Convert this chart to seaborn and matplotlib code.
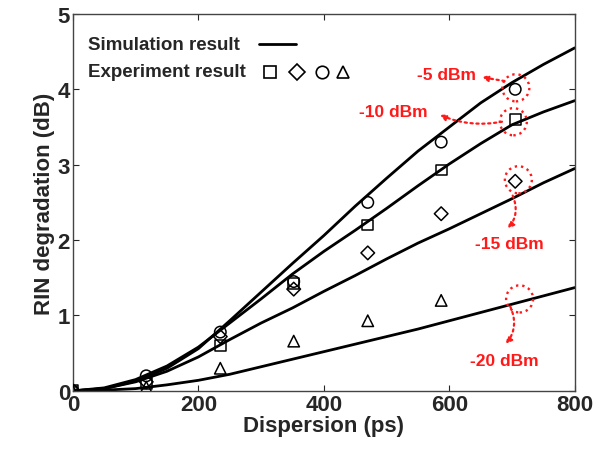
import matplotlib
matplotlib.use('Agg')
import matplotlib.pyplot as plt
from matplotlib.patches import Ellipse
import seaborn as sns
import pandas as pd
import numpy as np

# simulation curves
sim_x = [0, 50, 100, 150, 200, 250, 300, 350, 400, 450, 500, 550, 600, 650, 700, 750, 800]
sim_m5 = [0, 0.03, 0.13, 0.30, 0.56, 0.93, 1.31, 1.69, 2.06, 2.45, 2.82, 3.18, 3.50, 3.82, 4.09, 4.33, 4.55]
sim_m10 = [0, 0.04, 0.15, 0.33, 0.58, 0.90, 1.22, 1.55, 1.85, 2.13, 2.42, 2.72, 3.01, 3.28, 3.53, 3.70, 3.85]
sim_m15 = [0, 0.03, 0.12, 0.26, 0.45, 0.68, 0.90, 1.10, 1.32, 1.53, 1.75, 1.96, 2.15, 2.35, 2.55, 2.76, 2.95]
sim_m20 = [0, 0.01, 0.03, 0.08, 0.14, 0.22, 0.32, 0.42, 0.52, 0.62, 0.72, 0.82, 0.93, 1.04, 1.15, 1.26, 1.37]

# experimental points
exp_x = [0, 117, 235, 352, 470, 587, 705]
exp_m5 = [0, 0.20, 0.78, 1.45, 2.50, 3.30, 4.00]
exp_m10 = [0, 0.10, 0.60, 1.42, 2.20, 2.93, 3.60]
exp_m15 = [0, 0.12, 0.72, 1.35, 1.83, 2.35, 2.78]
exp_x20 = [0, 117, 235, 352, 470, 587]
exp_m20 = [0, 0.05, 0.30, 0.66, 0.93, 1.20]

sns.set_style('ticks')
plt.rcParams['font.family'] = ['Liberation Sans', 'DejaVu Sans']
plt.rcParams['font.weight'] = 'bold'

fig = plt.figure(figsize=(6.07, 4.52), dpi=100)
ax = fig.add_axes([0.120, 0.133, 0.827, 0.834])

sim = pd.DataFrame({'x': sim_x * 4,
                    'y': sim_m5 + sim_m10 + sim_m15 + sim_m20,
                    'p': ['-5'] * 17 + ['-10'] * 17 + ['-15'] * 17 + ['-20'] * 17})
sns.lineplot(data=sim, x='x', y='y', units='p', estimator=None, color='black',
             linewidth=2, ax=ax)

for xs, ys, m, sz in [(exp_x, exp_m10, 's', 62), (exp_x, exp_m15, 'D', 48),
                      (exp_x, exp_m5, 'o', 68), (exp_x20, exp_m20, '^', 68)]:
    sns.scatterplot(x=xs, y=ys, marker=m, s=sz, facecolor='none', edgecolor='black',
                    linewidth=1.1, zorder=3, ax=ax)

ax.set_xlim(0, 800)
ax.set_ylim(0, 5)
ax.set_xticks([0, 200, 400, 600, 800])
ax.set_yticks([0, 1, 2, 3, 4, 5])
ax.tick_params(direction='in', top=True, right=True, labelsize=16, length=4, pad=2)
for lab in ax.get_xticklabels() + ax.get_yticklabels():
    lab.set_fontweight('bold')
ax.set_xlabel('Dispersion (ps)', fontsize=16, fontweight='bold', labelpad=0)
ax.set_ylabel('RIN degradation (dB)', fontsize=16, fontweight='bold', labelpad=2)
for s in ax.spines.values():
    s.set_linewidth(1.0)
    s.set_color('#444444')

# legend drawn by hand
ax.text(0.030, 0.920, 'Simulation result', transform=ax.transAxes, fontsize=13.5,
        fontweight='bold', va='center')
ax.plot([0.370, 0.444], [0.920, 0.920], color='black', lw=2, transform=ax.transAxes)
ax.text(0.030, 0.846, 'Experiment result', transform=ax.transAxes, fontsize=13.5,
        fontweight='bold', va='center')
for xf, m, sz in [(0.392, 's', 8.5), (0.446, 'D', 8), (0.496, 'o', 9), (0.538, '^', 9)]:
    ax.plot([xf], [0.846], marker=m, ms=sz, mfc='none', mec='black', mew=1.2,
            transform=ax.transAxes, clip_on=False)

# red dotted circles and arrows
red = '#ff1a1a'
for cx, cy in [(706, 4.02), (702, 3.57), (710, 2.8), (712, 1.22)]:
    ax.add_patch(Ellipse((cx, cy), 43, 0.36, fill=False, ec=red, ls=':', lw=1.7, zorder=4))

notes = [('-5 dBm', (596, 4.2), (652, 4.16), (688, 4.11), 0.0),
         ('-10 dBm', (510, 3.71), (585, 3.66), (684, 3.57), -0.15),
         ('-15 dBm', (695, 1.95), (693, 2.15), (701, 2.59), -0.3),
         ('-20 dBm', (688, 0.40), (690, 0.62), (697, 1.12), -0.3)]
for txt, tpos, tip, start, rad in notes:
    ax.text(tpos[0], tpos[1], txt, color=red, fontsize=12.5, fontweight='bold',
            ha='center', va='center')
    ax.annotate('', xy=tip, xytext=start,
                arrowprops=dict(arrowstyle='-|>,head_length=0.35,head_width=0.18',
                                color=red, ls=':', lw=1.6, shrinkA=0, shrinkB=0,
                                connectionstyle=f'arc3,rad={rad}'))

fig.savefig('out.png', dpi=100)
